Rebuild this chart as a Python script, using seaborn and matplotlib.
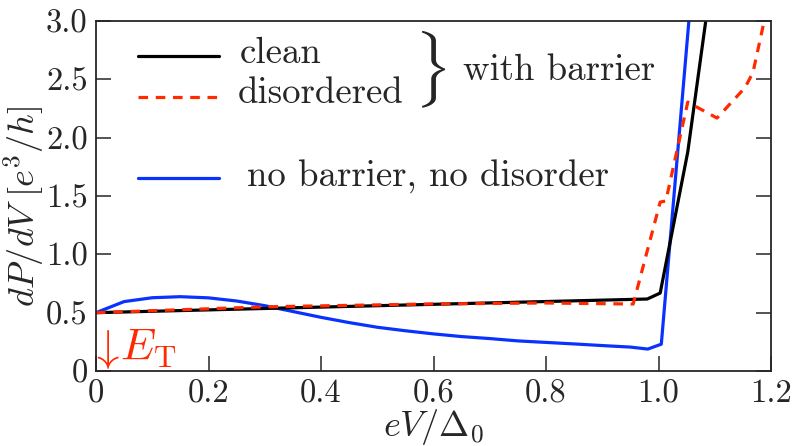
import matplotlib
matplotlib.use("Agg")
import matplotlib.pyplot as plt
import seaborn as sns
import pandas as pd

# ---- data ----
clean_x = [0.0, 0.98, 1.003, 1.052, 1.084]
clean_y = [0.50, 0.617, 0.668, 1.877, 3.0]

dis_x = [0.0, 0.3, 0.6, 0.8, 0.955, 1.003, 1.013, 1.052, 1.104, 1.154, 1.168, 1.187]
dis_y = [0.50, 0.55, 0.575, 0.583, 0.574, 1.448, 1.457, 2.305, 2.168, 2.43, 2.56, 2.98]

nob_x = [0.0, 0.05, 0.1, 0.15, 0.2, 0.25, 0.3, 0.35, 0.4, 0.45, 0.5, 0.55, 0.6,
         0.65, 0.7, 0.75, 0.8, 0.85, 0.9, 0.95, 0.981, 1.005, 1.054]
nob_y = [0.50, 0.595, 0.628, 0.637, 0.627, 0.60, 0.56, 0.51, 0.46, 0.415, 0.375,
         0.345, 0.318, 0.295, 0.278, 0.258, 0.245, 0.232, 0.218, 0.205, 0.188, 0.23, 3.0]

xticks = [0, 0.2, 0.4, 0.6, 0.8, 1.0, 1.2]
xticklabels = ["0", "0.2", "0.4", "0.6", "0.8", "1.0", "1.2"]
yticks = [0, 0.5, 1.0, 1.5, 2.0, 2.5, 3.0]
yticklabels = ["0", "0.5", "1.0", "1.5", "2.0", "2.5", "3.0"]

labels = ["clean", "disordered", "no barrier, no disorder"]

# ---- style ----
sns.set_style("ticks")
plt.rcParams["font.family"] = ["cmr10", "DejaVu Serif"]
plt.rcParams["mathtext.fontset"] = "cm"
plt.rcParams["axes.formatter.use_mathtext"] = True

BLACK = "#000000"
RED = "#ff2a00"
BLUE = "#0a32ff"
LW = 2.3
FS = 26.5

fig = plt.figure(figsize=(7.92, 4.46), dpi=100)
ax = fig.add_axes([96 / 792, 1 - 371 / 446, 675 / 792, 350 / 446])

df_c = pd.DataFrame({"x": clean_x, "y": clean_y})
df_d = pd.DataFrame({"x": dis_x, "y": dis_y})
df_n = pd.DataFrame({"x": nob_x, "y": nob_y})

sns.lineplot(data=df_n, x="x", y="y", sort=False, ax=ax, color=BLUE, lw=LW)
sns.lineplot(data=df_c, x="x", y="y", sort=False, ax=ax, color=BLACK, lw=LW)
sns.lineplot(data=df_d, x="x", y="y", sort=False, ax=ax, color=RED, lw=LW,
             dashes=False)
ax.lines[-1].set_dashes([3.0, 2.4])

ax.set_xlim(0, 1.2)
ax.set_ylim(0, 3.0)
ax.set_xticks(xticks)
ax.set_xticklabels(xticklabels)
ax.set_yticks(yticks)
ax.set_yticklabels(yticklabels)
ax.tick_params(direction="in", length=10.5, width=1.1, labelsize=23.5,
               right=True, top=False, pad=6)
for s in ax.spines.values():
    s.set_linewidth(1.3)
    s.set_visible(True)

ax.set_xlabel(r"$eV/\Delta_0$", fontsize=26)
ax.xaxis.set_label_coords(0.5, -0.102)
ax.set_ylabel(r"$dP/dV\ [e^3/h]$", fontsize=26)
ax.yaxis.set_label_coords(-0.074, 0.471)

# ---- manual legend ----
tr = ax.transAxes
ax.plot([0.0622, 0.1822], [0.90, 0.90], transform=tr, color=BLACK, lw=LW, clip_on=False)
ax.plot([0.0622, 0.1822], [0.783, 0.783], transform=tr, color=RED, lw=LW,
        dashes=[3.0, 2.4], clip_on=False)
ax.plot([0.0622, 0.1822], [0.5514, 0.5514], transform=tr, color=BLUE, lw=LW, clip_on=False)
ax.text(0.2133, 0.88, labels[0], transform=tr, fontsize=FS, va="baseline")
ax.text(0.2104, 0.7657, labels[1], transform=tr, fontsize=FS, va="baseline")
ax.text(0.2237, 0.5257, labels[2], transform=tr, fontsize=FS, va="baseline")
ax.text(0.495, 0.86, r"$\}$", transform=tr, fontsize=46, ha="center", va="center")
ax.text(0.5437, 0.831, "with barrier", transform=tr, fontsize=FS, va="baseline")

ax.text(-0.01, 0.031, r"$\downarrow\!E_{\rm T}$", transform=tr, fontsize=32,
        color=RED, va="baseline")

fig.savefig("out.png", dpi=100)
